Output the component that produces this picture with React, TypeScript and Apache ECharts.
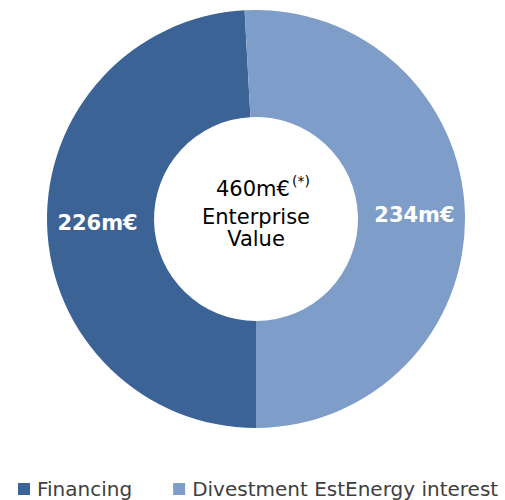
import React, { useEffect, useRef } from "react";
import * as echarts from "echarts";

const categories = ["Financing", "Divestment EstEnergy interest"];
const values = [226, 234];
const sliceLabels = ["226m€", "234m€"];
const colors = ["#3C6395", "#7F9DC9"];
const centerLines = ["460m€", "(*)", "Enterprise", "Value"];

export default function App() {
  const ref = useRef<HTMLDivElement>(null);
  useEffect(() => {
    document.body.style.margin = "0";
    const chart = echarts.init(ref.current!, null, { renderer: "svg" });
    const font = "'DejaVu Sans', Verdana, sans-serif";
    chart.setOption({
      animation: false,
      backgroundColor: "#ffffff",
      legend: {
        data: categories,
        left: 13,
        top: 474,
        itemWidth: 12,
        itemHeight: 12,
        itemGap: 41,
        icon: "rect",
        textStyle: {
          fontFamily: font,
          fontSize: 20,
          color: "#404040",
          padding: [0, 0, 0, 2],
        },
      },
      series: [
        {
          type: "pie",
          center: [256, 219],
          radius: [102, 209],
          startAngle: 270,
          clockwise: true,
          silent: true,
          label: {
            show: true,
            position: "inside",
            color: "#ffffff",
            fontFamily: font,
            fontWeight: "bold",
            fontSize: 21,
            formatter: (p: any) => sliceLabels[p.dataIndex],
          },
          labelLine: { show: false },
          itemStyle: { borderWidth: 0 },
          data: categories.map((c, i) => ({
            name: c,
            value: values[i],
            itemStyle: { color: colors[i] },
          })),
        },
      ],
      graphic: [
        {
          type: "text",
          left: 216,
          top: 178,
          style: { text: centerLines[0], font: `21px ${font}`, fill: "#000000" },
        },
        {
          type: "text",
          left: 292,
          top: 174,
          style: { text: centerLines[1], font: `14px ${font}`, fill: "#000000" },
        },
        {
          type: "text",
          x: 256,
          y: 206,
          style: {
            text: centerLines[2] + "\n" + centerLines[3],
            font: `21px ${font}`,
            lineHeight: 22,
            fill: "#000000",
            align: "center",
            verticalAlign: "top",
          },
        },
      ],
    });
    return () => chart.dispose();
  }, []);
  return <div ref={ref} style={{ width: 505, height: 500 }} />;
}
